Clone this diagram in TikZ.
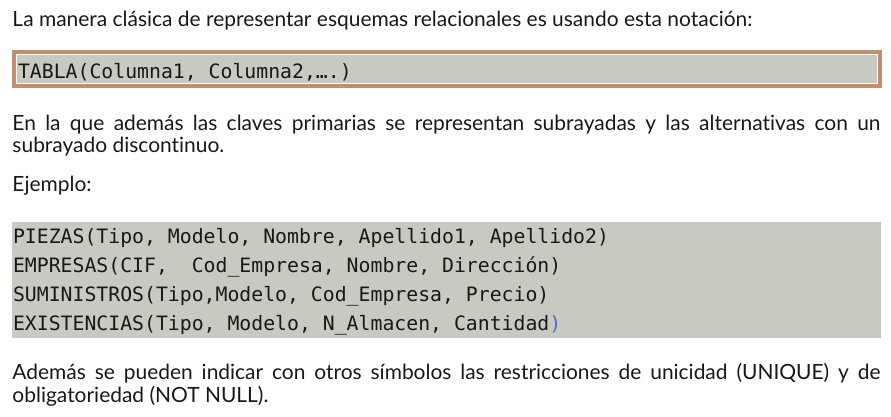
\documentclass[tikz,border=0pt]{standalone}
\usepackage{fontspec}
\setmainfont{Lato}[Ligatures=NoCommon]
\newfontfamily\codefont{DejaVu Sans Mono}
\definecolor{brownbd}{RGB}{192,143,112}
\definecolor{greybg}{RGB}{200,201,192}
\definecolor{txt}{RGB}{24,24,24}
\definecolor{parblue}{RGB}{68,114,196}
\newlength\firstw
\settowidth\firstw{\fontsize{20}{24}\selectfont La manera clásica de representar esquemas relacionales es usando esta notación:}
\pgfmathsetmacro\bodysize{20*740/\firstw}
\tikzset{
  body/.style={font=\fontsize{\bodysize}{\bodysize}\selectfont, text=txt, inner sep=0pt, outer sep=0pt, anchor=base west},
  code/.style={font=\codefont\fontsize{19.8}{19.8}\selectfont, text=txt, inner sep=0pt, outer sep=0pt, anchor=base west},
}
\begin{document}
\begin{tikzpicture}[x=1pt,y=-1pt]
\useasboundingbox (0,0) rectangle (891,416);
% line 1
\node[body] (intro) at (12.5,26) {La manera clásica de representar esquemas relacionales es usando esta notación:};
% box 1
\fill[brownbd] (12,50) rectangle (882,88);
\fill[white] (16,54) rectangle (878,84);
\fill[greybg] (17,55) rectangle (877,83);
\node[code] (tabla) at (18,78.7) {TABLA(Columna1, Columna2,….)};
% paragraph 2
\node[body] (p2a) at (12.5,130) {\makebox[868pt][s]{En la que además las claves primarias se representan subrayadas y las alternativas con un}};
\node[body] (p2b) at (12.5,152.5) {subrayado discontinuo.};
\node[body] (ej) at (12.5,191) {Ejemplo:};
% box 2
\fill[greybg] (12,222) rectangle (881,338);
\node[code] (r1) at (13,243.5) {PIEZAS(Tipo, Modelo, Nombre, Apellido1, Apellido2)};
\node[code] (r2) at (13,272.5) {EMPRESAS(CIF,\ \ Cod\_Empresa, Nombre, Dirección)};
\node[code] (r3) at (13,301.5) {SUMINISTROS(Tipo,Modelo, Cod\_Empresa, Precio)};
\node[code] (r4) at (13,330.5) {EXISTENCIAS(Tipo, Modelo, N\_Almacen, Cantidad\textcolor{parblue}{)}};
% last paragraph
\node[body] (p3a) at (12.5,379.5) {\makebox[868pt][s]{Además se pueden indicar con otros símbolos las restricciones de unicidad (UNIQUE) y de}};
\node[body] (p3b) at (12.5,402) {obligatoriedad (NOT NULL).};
\end{tikzpicture}
\end{document}
